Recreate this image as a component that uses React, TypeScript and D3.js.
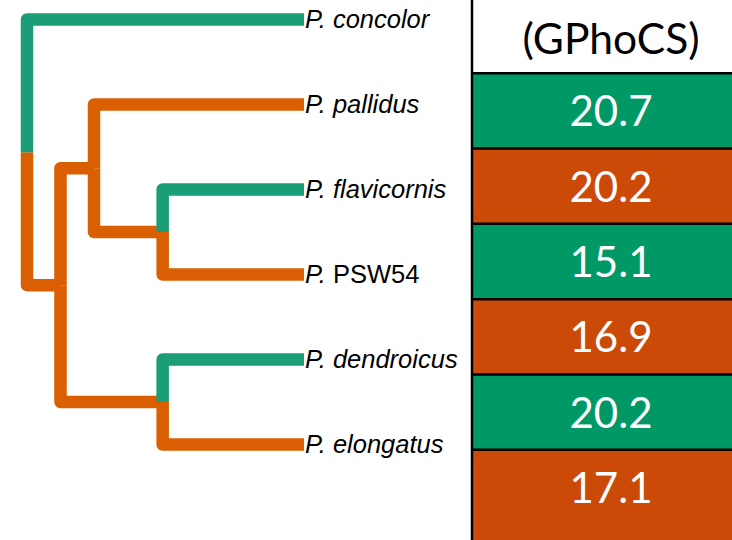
import * as d3 from "d3";

// tree topology (parallel arrays), depth in branch units
const nodeNames = ["root", "n1", "n2", "n3", "n4", "concolor", "pallidus", "flavicornis", "PSW54", "dendroicus", "elongatus"];
const nodeParents = [null, "root", "n1", "n2", "n1", "root", "n2", "n3", "n3", "n4", "n4"];
const nodeDepths = [0, 1, 2, 4.05, 4.05, 8.27, 8.27, 8.27, 8.27, 8.27, 8.27];
const branchStates = [1, 1, 1, 1, 1, 0, 1, 0, 1, 0, 1]; // 0 = teal, 1 = orange

const taxa = ["concolor", "pallidus", "flavicornis", "PSW54", "dendroicus", "elongatus"];
const italicNames = [true, true, true, false, true, true];

const tableHeader = "(GPhoCS)";
const tableValues = ["20.7", "20.2", "15.1", "16.9", "20.2", "17.1"];
const tableStates = [0, 1, 0, 1, 0, 1];

const treeColors = ["#1b9e77", "#d95f02"];
const cellColors = ["#009966", "#cc4a08"];

const W = 732;
const H = 540;

export default function App() {
  const x = d3.scaleLinear().domain([0, d3.max(nodeDepths)]).range([27, 304]);
  const yLeaf = d3.scalePoint().domain(taxa).range([19.5, 444.5]);

  // y of internal nodes = mean of their children
  const yOf = (name) => {
    if (taxa.includes(name)) return yLeaf(name);
    const kids = nodeNames.filter((n, i) => nodeParents[i] === name);
    return d3.mean(kids, yOf);
  };

  const edges = nodeNames
    .map((n, i) => ({ n, i }))
    .filter((d) => nodeParents[d.i] !== null)
    .map(({ n, i }) => {
      const p = nodeParents[i];
      const pi = nodeNames.indexOf(p);
      const path = d3.path();
      path.moveTo(x(nodeDepths[pi]), yOf(p));
      path.lineTo(x(nodeDepths[pi]), yOf(n));
      path.lineTo(x(nodeDepths[i]), yOf(n));
      return { d: path.toString(), color: treeColors[branchStates[i]], key: n };
    });

  const rowY = d3.scaleLinear().domain([0, 7]).range([-2, 525]);
  const colX = d3.scaleLinear().domain([0, 1]).range([472, 750]);
  const midX = (colX(0) + colX(1)) / 2;

  return (
    <svg width={W} height={H} style={{ position: "absolute", left: 0, top: 0 }}>
      <rect width={W} height={H} fill="#fff" />
      {/* table cells */}
      <g>
        {tableValues.map((v, i) => {
          const y0 = rowY(i + 1);
          const y1 = i === tableValues.length - 1 ? H : rowY(i + 2);
          return (
            <g key={i}>
              <rect x={colX(0)} y={y0} width={colX(1) - colX(0)} height={y1 - y0} fill={cellColors[tableStates[i]]} />
              <text
                x={midX}
                y={(rowY(i + 1) + rowY(i + 2)) / 2 + 15.5}
                textAnchor="middle"
                fill="#fff"
                fontFamily="Lato, 'Open Sans', sans-serif"
                fontSize={42}
              >
                {v}
              </text>
            </g>
          );
        })}
        <text x={midX} y={53.5} textAnchor="middle" fill="#000" fontFamily="Lato, 'Open Sans', sans-serif" fontSize={42.5}>
          {tableHeader}
        </text>
        {tableValues.map((v, i) => (
          <line key={i} x1={colX(0)} x2={W} y1={rowY(i + 1)} y2={rowY(i + 1)} stroke="#000" strokeWidth={2.5} />
        ))}
        <line x1={colX(0)} x2={colX(0)} y1={0} y2={H} stroke="#000" strokeWidth={2.5} />
      </g>
      {/* tree */}
      <g fill="none" strokeWidth={12.5} strokeLinejoin="round">
        {edges.map((e) => (
          <path key={e.key} d={e.d} stroke={e.color} />
        ))}
      </g>
      <g fontFamily="'Liberation Sans', Arial, sans-serif" fontSize={25.5} fill="#000">
        {taxa.map((t, i) => (
          <text key={t} x={x(d3.max(nodeDepths)) + 1} y={yLeaf(t) + 8.5} style={{ whiteSpace: "pre" }}>
            <tspan fontStyle="italic">{"P. "}</tspan>
            <tspan fontStyle={italicNames[i] ? "italic" : "normal"}>{t}</tspan>
          </text>
        ))}
      </g>
    </svg>
  );
}
